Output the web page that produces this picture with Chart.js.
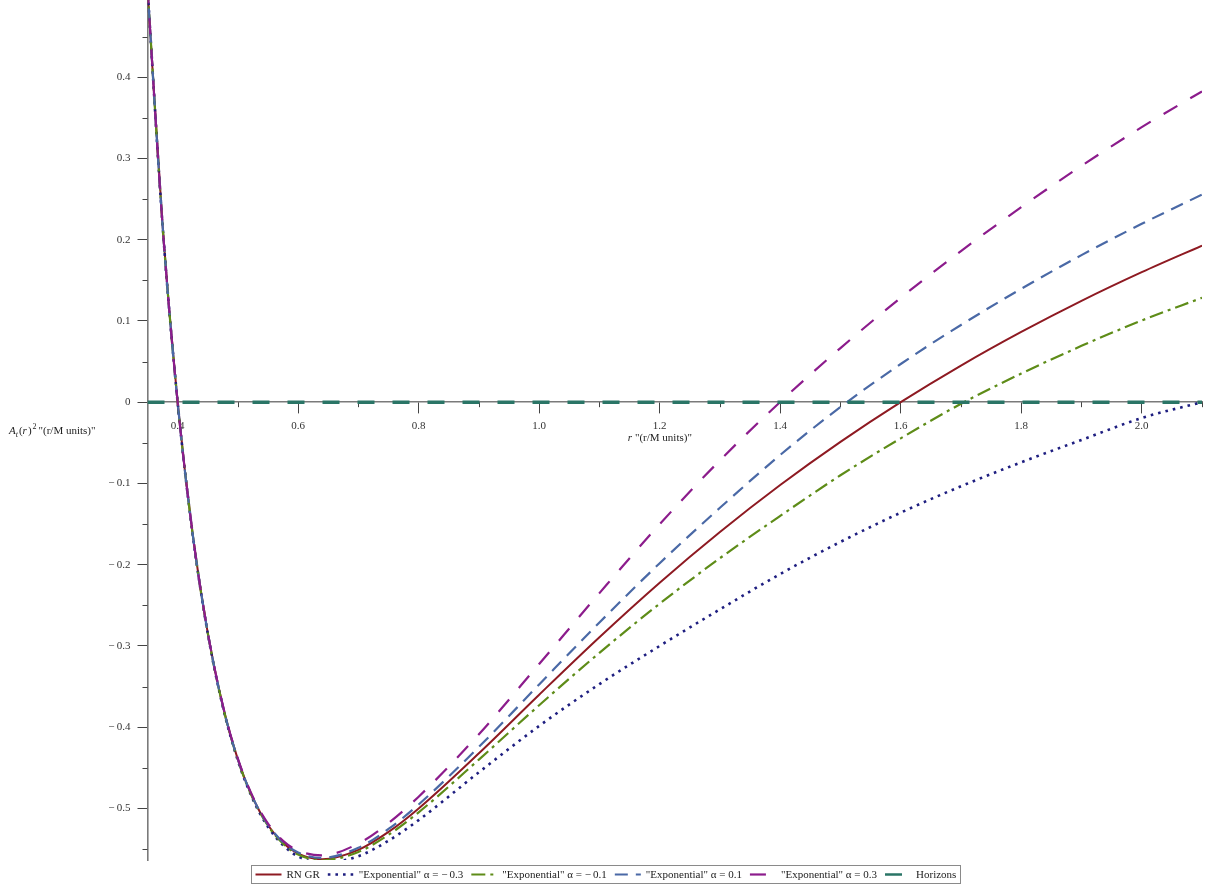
<!DOCTYPE html>
<html>
<head>
<meta charset="utf-8">
<script src="https://cdn.jsdelivr.net/npm/chart.js@4.4.1/dist/chart.umd.min.js"></script>
<style>
  html, body { margin: 0; padding: 0; background: #ffffff; }
  #wrap { width: 1210px; height: 890px; position: relative; }
  canvas { display: block; }
</style>
</head>
<body>
<div id="wrap"><canvas id="chart" width="1210" height="890"></canvas></div>
<script>
// Radial coordinate r (in units of M)
const radius = [0.35, 0.375, 0.4, 0.425, 0.45, 0.475, 0.5, 0.525, 0.55, 0.575, 0.6, 0.64, 0.7, 0.75, 0.8, 0.9, 1.0, 1.1, 1.2, 1.3, 1.4, 1.5, 1.6, 1.7, 1.8, 1.9, 2.0, 2.1];

// A_t(r)^2 for Reissner–Nordström in GR
const rnGR = [0.5102, 0.2178, 0, -0.1626, -0.2840, -0.3740, -0.4400, -0.4875, -0.5207, -0.5426, -0.5556, -0.5625, -0.5510, -0.5289, -0.5000, -0.4321, -0.3600, -0.2893, -0.2222, -0.1598, -0.1020, -0.0489, 0, 0.0450, 0.0864, 0.1247, 0.1600, 0.1927];

// A_t(r)^2 for the exponential model, one array per alpha
const expAlphaM03 = [0.5102, 0.2178, 0, -0.1629, -0.2846, -0.3749, -0.4412, -0.4890, -0.5228, -0.5453, -0.5592, -0.5673, -0.5588, -0.5397, -0.5144, -0.4555, -0.3985, -0.3470, -0.3000, -0.2550, -0.2115, -0.1720, -0.1360, -0.1035, -0.0740, -0.0465, -0.0195, 0.0];
const expAlphaM01 = [0.5102, 0.2178, 0, -0.1627, -0.2842, -0.3743, -0.4404, -0.4880, -0.5214, -0.5435, -0.5568, -0.5641, -0.5536, -0.5325, -0.5048, -0.4399, -0.3730, -0.3085, -0.2480, -0.1920, -0.1400, -0.0900, -0.0445, -0.0020, 0.0352, 0.0693, 0.1005, 0.1285];
const expAlphaP01 = [0.5102, 0.2178, 0, -0.1625, -0.2838, -0.3737, -0.4396, -0.4870, -0.5200, -0.5417, -0.5544, -0.5609, -0.5484, -0.5253, -0.4952, -0.4243, -0.3474, -0.2712, -0.1982, -0.1300, -0.0650, -0.0060, 0.0470, 0.0950, 0.1395, 0.1810, 0.2195, 0.2555];
const expAlphaP03 = [0.5102, 0.2178, 0, -0.1623, -0.2834, -0.3731, -0.4388, -0.4860, -0.5186, -0.5399, -0.5520, -0.5577, -0.5432, -0.5181, -0.4856, -0.4087, -0.3222, -0.2350, -0.1502, -0.0716, 0.0003, 0.0666, 0.1284, 0.1860, 0.2400, 0.2909, 0.3385, 0.3825];

// Horizon marker line
const horizonR = [0.35, 2.1];
const horizonValue = [0, 0];

// Axis ticks
const xTickValues = [0.4, 0.6, 0.8, 1.0, 1.2, 1.4, 1.6, 1.8, 2.0];
const xTickLabels = ['0.4', '0.6', '0.8', '1.0', '1.2', '1.4', '1.6', '1.8', '2.0'];
const xMinorTicks = [0.5, 0.7, 0.9, 1.1, 1.3, 1.5, 1.7, 1.9, 2.1];
const yTickValues = [-0.5, -0.4, -0.3, -0.2, -0.1, 0, 0.1, 0.2, 0.3, 0.4];
const yTickLabels = ['\u2212\u20090.5', '\u2212\u20090.4', '\u2212\u20090.3', '\u2212\u20090.2', '\u2212\u20090.1', '0', '0.1', '0.2', '0.3', '0.4'];
const yMinorTicks = [-0.55, -0.45, -0.35, -0.25, -0.15, -0.05, 0.05, 0.15, 0.25, 0.35, 0.45];

// Legend entries
const seriesLabels = ['RN GR', '"Exponential" \u03b1 = \u2212\u20090.3', '"Exponential" \u03b1 = \u2212\u20090.1', '"Exponential" \u03b1 = 0.1', '"Exponential" \u03b1 = 0.3', 'Horizons'];

const SERIF = '"Liberation Serif", "DejaVu Serif", serif';

function pts(xs, ys) { return xs.map((x, i) => ({ x: x, y: ys[i] })); }

const styles = [
  { color: '#8e1a22', dash: [], width: 2 },
  { color: '#1e1e80', dash: [2.6, 5], width: 2.6 },
  { color: '#5e8c18', dash: [14, 5, 3, 5], width: 2.2 },
  { color: '#4a69a6', dash: [13, 8], width: 2.2 },
  { color: '#8c1c8c', dash: [16, 15], width: 2.2 },
  { color: '#2a7566', dash: [17, 18], width: 3.5 }
];

const seriesData = [rnGR, expAlphaM03, expAlphaM01, expAlphaP01, expAlphaP03];

const datasets = seriesData.map((ys, i) => ({
  label: seriesLabels[i],
  data: pts(radius, ys),
  borderColor: styles[i].color,
  borderDash: styles[i].dash,
  borderWidth: styles[i].width,
  cubicInterpolationMode: 'monotone',
  pointRadius: 0,
  fill: false,
  order: 6 - i
}));
datasets.push({
  label: seriesLabels[5],
  data: pts(horizonR, horizonValue),
  borderColor: styles[5].color,
  borderDash: styles[5].dash,
  borderWidth: styles[5].width,
  pointRadius: 0,
  fill: false,
  order: 0
});

// Short minor ticks along both axes (drawn under the curves)
const minorTicks = {
  id: 'minorTicks',
  beforeDatasetsDraw(chart) {
    const ctx = chart.ctx;
    const xs = chart.scales.x, ys = chart.scales.y;
    const y0 = ys.getPixelForValue(0);
    const xl = chart.chartArea.left;
    ctx.save();
    ctx.strokeStyle = '#444';
    ctx.lineWidth = 1;
    ctx.beginPath();
    xMinorTicks.forEach(v => {
      const px = Math.round(xs.getPixelForValue(v)) + 0.5;
      ctx.moveTo(px, y0);
      ctx.lineTo(px, y0 + 5);
    });
    yMinorTicks.forEach(v => {
      const py = Math.round(ys.getPixelForValue(v)) + 0.5;
      ctx.moveTo(xl - 5, py);
      ctx.lineTo(xl, py);
    });
    ctx.stroke();
    ctx.restore();
  }
};

function drawRuns(ctx, x, baseline, runs) {
  let cx = x;
  runs.forEach(r => {
    ctx.font = r.font;
    ctx.fillText(r.t, cx, baseline + (r.dy || 0));
    cx += ctx.measureText(r.t).width + (r.after || 0);
  });
  return cx;
}
function runsWidth(ctx, runs) {
  let w = 0;
  runs.forEach(r => { ctx.font = r.font; w += ctx.measureText(r.t).width + (r.after || 0); });
  return w;
}

// Axis titles and the boxed legend at the bottom
const annotations = {
  id: 'annotations',
  afterDraw(chart) {
    const ctx = chart.ctx;
    const area = chart.chartArea;
    const y0 = chart.scales.y.getPixelForValue(0);
    ctx.save();
    ctx.fillStyle = '#222';
    ctx.textBaseline = 'alphabetic';
    ctx.textAlign = 'left';

    const it = 'italic 11px ' + SERIF;
    const rg = '11px ' + SERIF;
    const sm = 'italic 8px ' + SERIF;
    const smr = '8px ' + SERIF;

    // vertical axis title
    drawRuns(ctx, 9, y0 + 32, [
      { t: 'A', font: it },
      { t: 't', font: sm, dy: 2.5, after: 1 },
      { t: '(', font: rg },
      { t: 'r', font: it, after: 1 },
      { t: ')', font: rg, after: 1 },
      { t: '2', font: smr, dy: -5, after: 2 },
      { t: '"(r/M units)"', font: rg }
    ]);

    // horizontal axis title
    const xRuns = [
      { t: 'r', font: it, after: 3 },
      { t: '"(r/M units)"', font: rg }
    ];
    const xw = runsWidth(ctx, xRuns);
    const xc = (area.left + area.right) / 2 - 15;
    drawRuns(ctx, xc - xw / 2, y0 + 39, xRuns);

    // legend
    const sample = 26, gapText = 5, gapItem = 8, pad = 4;
    ctx.font = rg;
    let total = pad * 2;
    seriesLabels.forEach((lab, i) => {
      total += sample + gapText + ctx.measureText(lab).width + (i < seriesLabels.length - 1 ? gapItem : 0);
    });
    const boxTop = 865, boxH = 18;
    const boxLeft = Math.round(chart.width / 2 - total / 2) + 0.5;
    ctx.strokeStyle = '#8a8a8a';
    ctx.lineWidth = 1;
    ctx.setLineDash([]);
    ctx.strokeRect(boxLeft, boxTop + 0.5, Math.round(total), boxH);
    let cx = boxLeft + pad;
    const cy = boxTop + boxH / 2 + 0.5;
    seriesLabels.forEach((lab, i) => {
      const st = styles[i];
      ctx.save();
      ctx.strokeStyle = st.color;
      ctx.lineWidth = Math.min(st.width, 2.5);
      ctx.setLineDash(st.dash);
      ctx.beginPath();
      ctx.moveTo(cx, cy);
      ctx.lineTo(cx + sample, cy);
      ctx.stroke();
      ctx.restore();
      cx += sample + gapText;
      ctx.font = rg;
      ctx.fillStyle = '#222';
      ctx.textBaseline = 'middle';
      ctx.fillText(lab, cx, cy + 0.5);
      cx += ctx.measureText(lab).width + gapItem;
    });
    ctx.restore();
  }
};

function noPadding(s) {
  s.paddingTop = 0; s.paddingBottom = 0; s.paddingLeft = 0; s.paddingRight = 0;
}

new Chart(document.getElementById('chart'), {
  type: 'line',
  data: { datasets: datasets },
  options: {
    responsive: false,
    animation: false,
    devicePixelRatio: 1,
    layout: { padding: { left: 0, right: 8, top: 0, bottom: 30 } },
    plugins: { legend: { display: false }, tooltip: { enabled: false } },
    elements: { line: { tension: 0 } },
    scales: {
      x: {
        type: 'linear',
        min: 0.35,
        max: 2.1,
        position: { y: 0 },
        afterFit: s => { noPadding(s); },
        afterBuildTicks: s => { s.ticks = xTickValues.map(v => ({ value: v })); },
        grid: { drawOnChartArea: false, drawTicks: true, tickLength: 11, color: '#444', lineWidth: 1 },
        border: { display: true, color: '#7a7a7a', width: 1.4 },
        ticks: {
          autoSkip: false, maxRotation: 0, padding: 6, color: '#333',
          font: { family: SERIF, size: 11 },
          callback: (v, i) => xTickLabels[i]
        }
      },
      y: {
        type: 'linear',
        min: -0.5635,
        max: 0.495,
        position: 'left',
        afterFit: s => { s.width = 147.5; noPadding(s); },
        afterBuildTicks: s => { s.ticks = yTickValues.map(v => ({ value: v })); },
        grid: { drawOnChartArea: false, drawTicks: true, tickLength: 10, color: '#444', lineWidth: 1 },
        border: { display: true, color: '#7a7a7a', width: 1.6 },
        ticks: {
          autoSkip: false, padding: 7, color: '#333',
          font: { family: SERIF, size: 11 },
          callback: (v, i) => yTickLabels[i]
        }
      }
    }
  },
  plugins: [minorTicks, annotations]
});
</script>
</body>
</html>
